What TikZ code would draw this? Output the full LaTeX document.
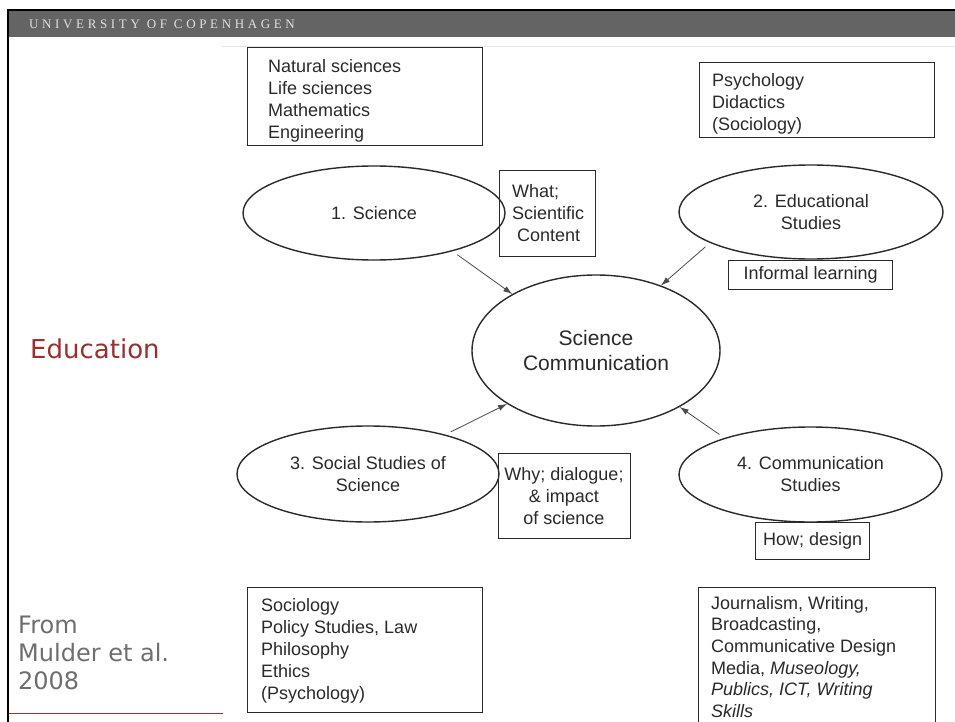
\documentclass[tikz,border=0pt]{standalone}
\usepackage{fontspec}
\setmainfont{Liberation Sans}
\newfontfamily\dejavu{DejaVu Sans}
\newfontfamily\hdrfont[LetterSpace=28]{Liberation Serif}
\usetikzlibrary{shapes.geometric,arrows.meta,calc}
\definecolor{ink}{HTML}{2A2A2A}
\definecolor{kured}{HTML}{9B2F2F}
\definecolor{bar}{HTML}{646464}
\definecolor{note}{HTML}{6E6E6E}
\begin{document}
\begin{tikzpicture}[x=1pt,y=-1pt,
  frame/.style={draw=ink, line width=1.4pt, inner sep=0pt, anchor=north west, text=ink,
    font=\fontsize{18}{22}\selectfont},
  oval/.style={ellipse, draw=ink, line width=1.4pt, inner sep=0pt, align=center, text=ink,
    font=\fontsize{18}{22}\selectfont},
  txt/.style={inner sep=0pt, text=ink, align=left, anchor=north west,
    font=\fontsize{18}{22}\selectfont},
  link/.style={draw=ink!85, line width=0.8pt, shorten <=6pt, -{Latex[length=9pt,width=6pt]}}]
\clip (0,0) rectangle (955,722);
\useasboundingbox (0,0) rectangle (955,722);
\fill[white] (0,0) rectangle (955,722);

% slide header and frame
\fill[bar] (7,10) rectangle (955,37);
\fill[black] (7,9) rectangle (955,11.5);
\fill[black] (7,9) rectangle (9.2,722);
\node[inner sep=0pt, anchor=base west, text=white!88!black,
  font=\hdrfont\fontsize{13}{15}\selectfont] (hdr) at (29,28.5) {UNIVERSITY OF COPENHAGEN};

% left column
\node[inner sep=0pt, anchor=base west, text=kured,
  font=\dejavu\fontsize{26}{30}\selectfont] (edu) at (30,358) {Education};
\node[inner sep=0pt, anchor=north west, text=note, align=left,
  font=\dejavu\fontsize{24}{28}\selectfont] (src) at (18,615.5) {From\\Mulder et al.\\2008};
\draw[kured, line width=1pt] (9,713.5) -- (223,713.5);

% figure edge
\draw[black!10, line width=0.8pt] (222,46.5) -- (955,46.5);

% discipline boxes
\node[frame, minimum width=235pt, minimum height=98pt] (nat) at (247,47) {};
\node[txt] (natT) at (268,59) {Natural sciences\\Life sciences\\Mathematics\\Engineering};

\node[frame, minimum width=235pt, minimum height=75pt] (psy) at (699,62) {};
\node[txt] (psyT) at (712,73) {Psychology\\Didactics\\(Sociology)};

\node[frame, minimum width=235pt, minimum height=125pt] (soc) at (247,587) {};
\node[txt] (socT) at (261,598) {Sociology\\Policy Studies, Law\\Philosophy\\Ethics\\(Psychology)};

\node[frame, minimum width=237pt, minimum height=150pt] (jou) at (698,587) {};
\node[txt, font=\fontsize{18}{21.6}\selectfont] (jouT) at (711,596) {Journalism, Writing,\\Broadcasting,\\Communicative Design\\Media, \textit{Museology,}\\\textit{Publics, ICT, Writing}\\\textit{Skills}};

% ellipses
\node[oval, minimum width=262pt, minimum height=94pt] (sci) at (374,213) {1. Science};
\node[oval, minimum width=264pt, minimum height=94pt] (edus) at (811,212) {2. Educational\\Studies};
\node[oval, minimum width=262pt, minimum height=96pt] (sss) at (368,474) {3. Social Studies of\\Science};
\node[oval, minimum width=263pt, minimum height=95pt] (coms) at (810.5,474.5) {4. Communication\\Studies};
\node[oval, minimum width=248pt, minimum height=151pt,
  font=\fontsize{21}{25}\selectfont] (sc) at (596,350.5) {Science\\Communication};

% question boxes
\node[frame, minimum width=96pt, minimum height=86pt] (what) at (499,170) {};
\node[txt] (whatT) at (512,184) {What;\\Scientific\\\hspace*{5pt}Content};

\node[frame, minimum width=164pt, minimum height=29pt] (inf) at (728,260) {Informal learning};

\node[frame, minimum width=132pt, minimum height=85pt] (why) at (498,453) {};
\node[txt, align=center, anchor=north] (whyT) at (564,467) {Why; dialogue;\\\& impact\\of science};

\node[frame, minimum width=114pt, minimum height=37pt] (how) at (755,522) {How; design};

% connectors
\draw[link] (sci.-26) -- (sc.146);
\draw[link] (edus.-163) -- (sc.45);
\draw[link] (sss.27) -- (sc.-149);
\draw[link] (coms.157) -- (sc.-34);
\end{tikzpicture}
\end{document}
